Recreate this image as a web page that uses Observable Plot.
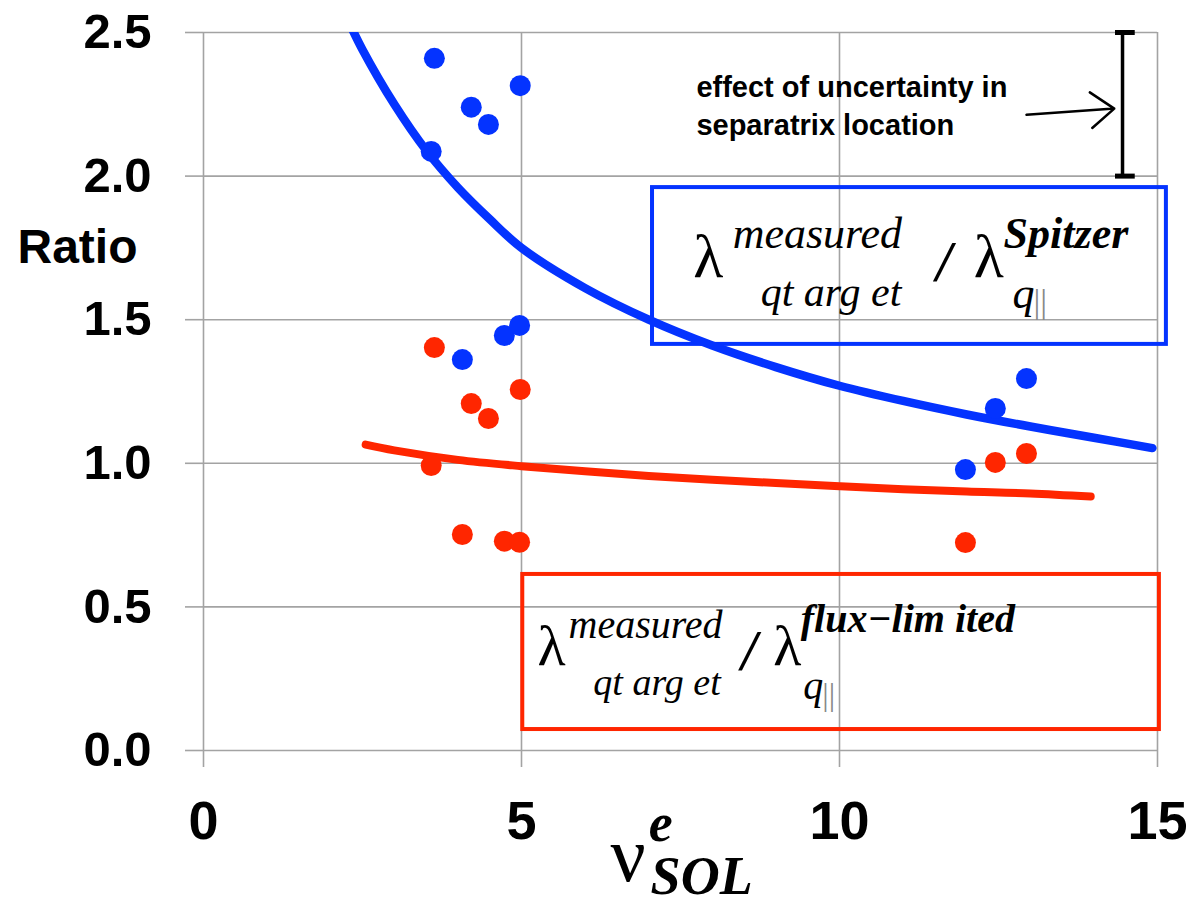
<!DOCTYPE html>
<html><head><meta charset="utf-8">
<script src="https://cdn.jsdelivr.net/npm/d3@7"></script>
<script src="https://cdn.jsdelivr.net/npm/@observablehq/plot@0.6"></script>
<style>
body{margin:0;background:#fff;}
#chart svg{display:block;overflow:visible;}
</style>
</head><body><div id="chart"></div>
<script>
// ---- data ----
const xTicks = [0, 5, 10, 15];
const yTicks = [0, 0.5, 1.0, 1.5, 2.0, 2.5];

// collisionality nu_SOL^e of each shot
const nuSOL = [3.63, 4.21, 4.48, 4.98, 3.58, 4.07, 4.73, 4.97, 11.98, 12.45, 12.94];
// ratio measured / Spitzer
const ratioSpitzer = [2.41, 2.24, 2.18, 2.315, 2.086, 1.361, 1.445, 1.48, 0.978, 1.191, 1.295];
// ratio measured / flux-limited
const ratioFluxLim = [1.403, 1.208, 1.156, 1.257, 0.992, 0.752, 0.729, 0.725, 0.724, 1.003, 1.034];

// fitted trend curves
const spitzerFitX = [2.3, 2.5, 3, 3.5, 4, 4.5, 5, 6, 7, 8, 9, 10, 11, 12, 13, 14, 14.92];
const spitzerFitY = [2.53, 2.44, 2.25, 2.09, 1.96, 1.85, 1.75, 1.61, 1.50, 1.41, 1.335, 1.27, 1.217, 1.17, 1.128, 1.089, 1.053];
const fluxFitX = [2.55, 3, 4, 5, 6, 7, 8, 9, 10, 11, 12, 13, 13.95];
const fluxFitY = [1.065, 1.045, 1.012, 0.99, 0.972, 0.956, 0.943, 0.931, 0.92, 0.91, 0.902, 0.895, 0.884];

// ---- styles ----
const BLUE = "#0433ff";
const RED = "#ff2600";
const GRID = "#a3a3a3";
const SERIF = "Liberation Serif, Times New Roman, serif";
const SANS = "Liberation Sans, Arial, sans-serif";

const spitzerPts = nuSOL.map((x, i) => ({x, y: ratioSpitzer[i]}));
const fluxPts = nuSOL.map((x, i) => ({x, y: ratioFluxLim[i]}));
const spitzerFit = spitzerFitX.map((x, i) => ({x, y: spitzerFitY[i]}));
const fluxFit = fluxFitX.map((x, i) => ({x, y: fluxFitY[i]}));

// annotation placements (data coordinates, baseline)
const notes = [
  // blue box formula
  {t: "λ", x: 7.70, y: 1.647, size: 62, fam: SERIF, style: "normal", weight: "normal", w: 30},
  {t: "measured", x: 8.32, y: 1.748, size: 44, fam: SERIF, style: "italic", weight: "normal", w: 171},
  {t: "qt arg et", x: 8.76, y: 1.549, size: 42, fam: SERIF, style: "italic", weight: "normal", w: 143},
  {t: "/", x: 11.52, y: 1.636, size: 56, fam: SERIF, style: "italic", weight: "bold", w: 22},
  {t: "λ", x: 12.11, y: 1.647, size: 62, fam: SERIF, style: "normal", weight: "normal", w: 29},
  {t: "Spitzer", x: 12.58, y: 1.751, size: 44, fam: SERIF, style: "italic", weight: "bold", w: 129},
  {t: "q", x: 12.72, y: 1.539, size: 44, fam: SERIF, style: "italic", weight: "normal", w: 19},
  {t: "||", x: 13.05, y: 1.522, size: 34, fam: SERIF, style: "normal", weight: "normal", w: 14, fill: "#888"},
  // red box formula
  {t: "λ", x: 5.25, y: 0.296, size: 58, fam: SERIF, style: "normal", weight: "normal", w: 26},
  {t: "measured", x: 5.74, y: 0.393, size: 40, fam: SERIF, style: "italic", weight: "normal", w: 145},
  {t: "qt arg et", x: 6.13, y: 0.192, size: 38, fam: SERIF, style: "italic", weight: "normal", w: 120},
  {t: "/", x: 8.46, y: 0.279, size: 56, fam: SERIF, style: "italic", weight: "bold", w: 20},
  {t: "λ", x: 8.96, y: 0.296, size: 58, fam: SERIF, style: "normal", weight: "normal", w: 24},
  {t: "flux−lim ited", x: 9.39, y: 0.411, size: 40, fam: SERIF, style: "italic", weight: "bold", w: 212},
  {t: "q", x: 9.43, y: 0.181, size: 40, fam: SERIF, style: "italic", weight: "normal", w: 17},
  {t: "||", x: 9.73, y: 0.160, size: 32, fam: SERIF, style: "normal", weight: "normal", w: 12, fill: "#888"},
  // x axis label  nu^e_SOL
  {t: "ν", x: 6.40, y: -0.453, size: 78, fam: SERIF, style: "normal", weight: "normal", w: 28},
  {t: "e", x: 7.0, y: -0.315, size: 54, fam: SERIF, style: "italic", weight: "bold", w: 31},
  {t: "SOL", x: 7.03, y: -0.50, size: 54, fam: SERIF, style: "italic", weight: "bold", w: 86},
  // y axis label
  {t: "Ratio", x: -2.925, y: 1.696, size: 48, fam: SANS, style: "normal", weight: "bold", w: 111},
  // uncertainty note
  {t: "effect of uncertainty in", x: 7.75, y: 2.275, size: 29, fam: SANS, style: "normal", weight: "bold", w: 344},
  {t: "separatrix location", x: 7.75, y: 2.143, size: 29, fam: SANS, style: "normal", weight: "bold", w: 284}
];

const noteMarks = notes.map((n, i) => Plot.text([n], {
  x: "x", y: "y", text: "t",
  textAnchor: "start", lineAnchor: "bottom",
  fontSize: n.size, fontFamily: n.fam, fontStyle: n.style, fontWeight: n.weight,
  fill: n.fill || "black",
  ariaLabel: "note-" + i
}));

const plot = Plot.plot({
  width: 1188,
  height: 905,
  marginTop: 32,
  marginRight: 31,
  marginBottom: 155,
  marginLeft: 203,
  style: {fontFamily: SANS, background: "#fff", overflow: "visible"},
  x: {domain: [0, 15]},
  y: {domain: [0, 2.5]},
  marks: [
    Plot.gridX(xTicks, {stroke: GRID, strokeOpacity: 1, strokeWidth: 1.6}),
    Plot.gridY(yTicks, {stroke: GRID, strokeOpacity: 1, strokeWidth: 1.6}),
    Plot.axisX(xTicks, {tickSize: 17, tickPadding: 33, stroke: GRID, strokeWidth: 1.6, color: "black", fill: "black",
      fontSize: 54, fontWeight: "bold", tickFormat: d => String(d), label: null}),
    Plot.axisY(yTicks, {tickSize: 18, tickPadding: 34, stroke: GRID, strokeWidth: 1.6, color: "black", fill: "black",
      fontSize: 49, fontWeight: "bold", tickFormat: d => d.toFixed(1), label: null}),
    Plot.rect([{x1: 7.06, x2: 15.14, y1: 1.414, y2: 1.96}], {x1: "x1", x2: "x2", y1: "y1", y2: "y2", fill: "none", stroke: BLUE, strokeWidth: 4}),
    Plot.rect([{x1: 5.02, x2: 15.03, y1: 0.073, y2: 0.613}], {x1: "x1", x2: "x2", y1: "y1", y2: "y2", fill: "none", stroke: RED, strokeWidth: 4}),
    Plot.ruleX([14.45], {y1: 2.0, y2: 2.5, stroke: "black", strokeWidth: 3.5}),
    Plot.ruleY([2.0, 2.5], {x1: 14.34, x2: 14.65, stroke: "black", strokeWidth: 5}),
    Plot.arrow([{x1: 12.94, y1: 2.214, x2: 14.32, y2: 2.235}], {x1: "x1", y1: "y1", x2: "x2", y2: "y2", stroke: "black", strokeWidth: 2.5, headLength: 18, headAngle: 75}),
    ...noteMarks,
    Plot.line(spitzerFit, {x: "x", y: "y", stroke: BLUE, strokeWidth: 8.5, curve: "catmull-rom", strokeLinecap: "round", clip: true}),
    Plot.line(fluxFit, {x: "x", y: "y", stroke: RED, strokeWidth: 8, curve: "catmull-rom", strokeLinecap: "round"}),
    Plot.dot(spitzerPts, {x: "x", y: "y", r: 10.5, fill: BLUE}),
    Plot.dot(fluxPts, {x: "x", y: "y", r: 10.5, fill: RED})
  ]
});

document.getElementById("chart").appendChild(plot);

// fit annotation widths to the reference
notes.forEach((n, i) => {
  d3.select(plot).selectAll(`g[aria-label="note-${i}"] text`)
    .attr("textLength", n.w)
    .attr("lengthAdjust", "spacingAndGlyphs");
});
</script></body></html>
